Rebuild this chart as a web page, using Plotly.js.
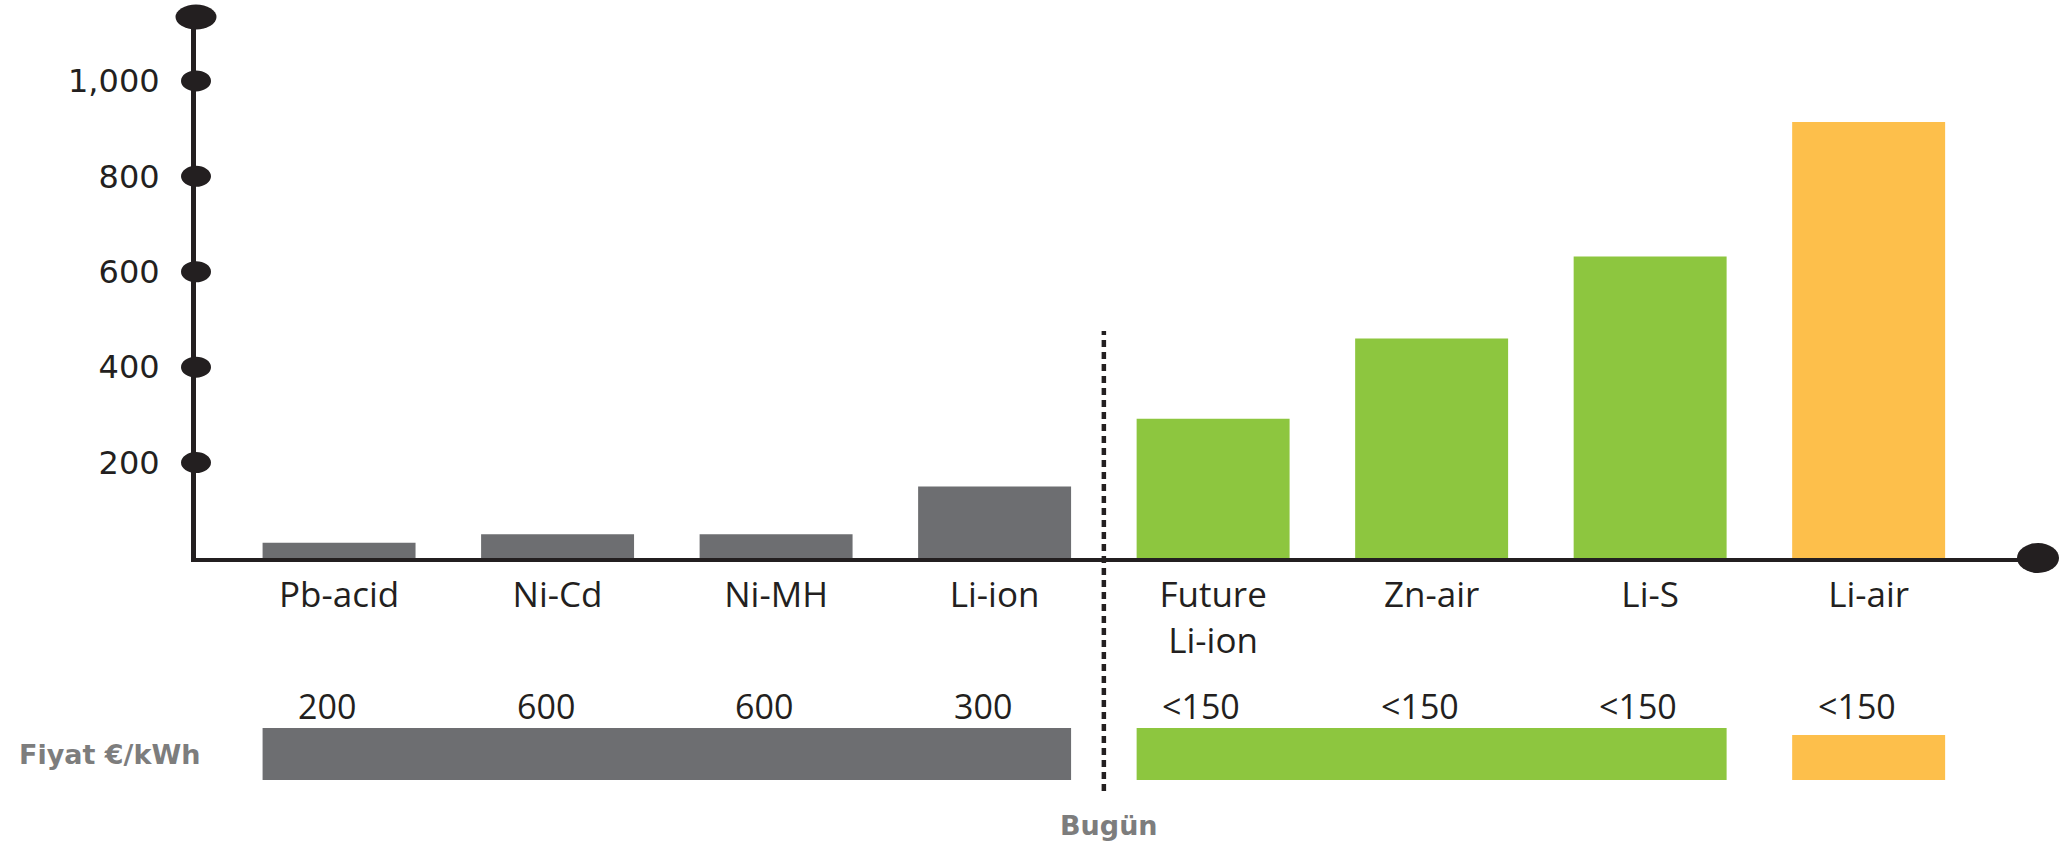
<!DOCTYPE html>
<html>
<head>
<meta charset="utf-8">
<script src="https://cdn.plot.ly/plotly-3.0.1.min.js"></script>
<style>
  html, body { margin: 0; padding: 0; background: #ffffff; }
  #chart { width: 2062px; height: 841px; }
</style>
</head>
<body>
<div id="chart"></div>
<script>
// ---------------- DATA ----------------
const categories = ['Pb-acid', 'Ni-Cd', 'Ni-MH', 'Li-ion', 'Future Li-ion', 'Zn-air', 'Li-S', 'Li-air'];
const tickLabels = ['Pb-acid', 'Ni-Cd', 'Ni-MH', 'Li-ion', 'Future<br>Li-ion', 'Zn-air', 'Li-S', 'Li-air'];
const energyDensity = [32, 50, 50, 150, 292, 460, 632, 914];
const yTickValues = [200, 400, 600, 800, 1000];
const yTickLabels = ['200', '400', '600', '800', '1,000'];
const priceLabels = ['200', '600', '600', '300', '<150', '<150', '<150', '<150'];
const priceGroupStart = ['Pb-acid', 'Future Li-ion', 'Li-air'];
const priceGroupEnd = ['Li-ion', 'Li-S', 'Li-air'];
const priceTitle = 'Fiyat €/kWh';
const dividerAfter = 'Li-ion';
const dividerLabel = 'Bugün';

// ---------------- STYLE ----------------
const GRAY = '#6d6e71', GREEN = '#8dc63f', ORANGE = '#fdbf4b', INK = '#231f20', LABEL_GRAY = '#7d7d7d';
const barColors = [GRAY, GRAY, GRAY, GRAY, GREEN, GREEN, GREEN, ORANGE];
const groupColors = [GRAY, GREEN, ORANGE];
const groupTopPx = [728, 728, 735];
const BAR_W = 0.7;

// plot-area geometry (pixels)
const L = 195.5, T = 17, W = 1842.5, H = 541;
const WIDTH = 2062, HEIGHT = 841;
const py = p => (T + H - p) / H;       // pixel y -> paper y
const pxX = p => (p - L) / W;          // pixel x -> paper x
const idx = c => categories.indexOf(c);
const esc = s => s.replace(/</g, '&lt;').replace(/>/g, '&gt;');

const trace = {
  type: 'bar',
  x: categories,
  y: energyDensity,
  width: BAR_W,
  marker: { color: barColors, line: { width: 0 } },
  hoverinfo: 'x+y'
};

const shapes = [];
// tick dots on y axis
yTickValues.forEach(v => {
  shapes.push({
    type: 'circle', layer: 'above',
    xref: 'paper', xsizemode: 'pixel', xanchor: 0, x0: -15, x1: 15,
    yref: 'y', ysizemode: 'pixel', yanchor: v, y0: -10.5, y1: 10.5,
    fillcolor: INK, line: { width: 0 }
  });
});
// axis end dots
shapes.push({
  type: 'circle', layer: 'above',
  xref: 'paper', xsizemode: 'pixel', xanchor: 0, x0: -20.5, x1: 20.5,
  yref: 'paper', ysizemode: 'pixel', yanchor: 1, y0: -12.5, y1: 12.5,
  fillcolor: INK, line: { width: 0 }
});
shapes.push({
  type: 'circle', layer: 'above',
  xref: 'paper', xsizemode: 'pixel', xanchor: 1, x0: -21, x1: 21,
  yref: 'paper', ysizemode: 'pixel', yanchor: 0, y0: -15, y1: 15,
  fillcolor: INK, line: { width: 0 }
});
// price bands
priceGroupStart.forEach((s, g) => {
  shapes.push({
    type: 'rect', layer: 'above',
    xref: 'x', x0: idx(s) - BAR_W / 2, x1: idx(priceGroupEnd[g]) + BAR_W / 2,
    yref: 'paper', y0: py(780), y1: py(groupTopPx[g]),
    fillcolor: groupColors[g], line: { width: 0 }
  });
});
// dotted divider ("today")
const divX = idx(dividerAfter) + 0.5;
shapes.push({
  type: 'line', layer: 'above',
  xref: 'x', x0: divX, x1: divX,
  yref: 'paper', y0: py(791), y1: py(331),
  line: { color: INK, width: 4.5, dash: '7px,5px' }
});

const annotations = [];
priceLabels.forEach((t, i) => {
  annotations.push({
    xref: 'x', x: categories[i], xshift: -12,
    yref: 'paper', y: py(706), yanchor: 'middle', xanchor: 'center',
    text: esc(t), showarrow: false,
    font: { family: 'Open Sans', size: 34, color: INK }
  });
});
annotations.push({
  xref: 'paper', x: pxX(16), xanchor: 'left',
  yref: 'paper', y: py(754), yanchor: 'middle',
  text: '<b>' + esc(priceTitle) + '</b>', showarrow: false,
  font: { family: 'DejaVu Sans', size: 27, color: LABEL_GRAY }
});
annotations.push({
  xref: 'x', x: divX, xshift: 5, xanchor: 'center',
  yref: 'paper', y: py(825), yanchor: 'middle',
  text: '<b>' + esc(dividerLabel) + '</b>', showarrow: false,
  font: { family: 'DejaVu Sans', size: 27, color: LABEL_GRAY }
});

const layout = {
  width: WIDTH, height: HEIGHT,
  margin: { l: L, r: WIDTH - L - W, t: T, b: HEIGHT - T - H, pad: 0 },
  paper_bgcolor: '#ffffff', plot_bgcolor: '#ffffff',
  showlegend: false,
  xaxis: {
    type: 'category',
    range: [-0.6547, 7.775],
    tickmode: 'array', tickvals: categories, ticktext: tickLabels,
    ticks: '', ticklabelstandoff: 3,
    tickfont: { family: 'Open Sans', size: 35, color: INK },
    showline: true, linecolor: INK, linewidth: 4,
    showgrid: false, zeroline: false, fixedrange: true
  },
  yaxis: {
    range: [0, 1134],
    tickmode: 'array', tickvals: yTickValues, ticktext: yTickLabels,
    ticks: '', ticklabelstandoff: 25,
    tickfont: { family: 'DejaVu Sans', size: 32, color: INK },
    showline: true, linecolor: INK, linewidth: 5,
    showgrid: false, zeroline: false, fixedrange: true
  },
  shapes: shapes,
  annotations: annotations
};

Plotly.newPlot('chart', [trace], layout, { displayModeBar: false, staticPlot: true });
</script>
</body>
</html>
